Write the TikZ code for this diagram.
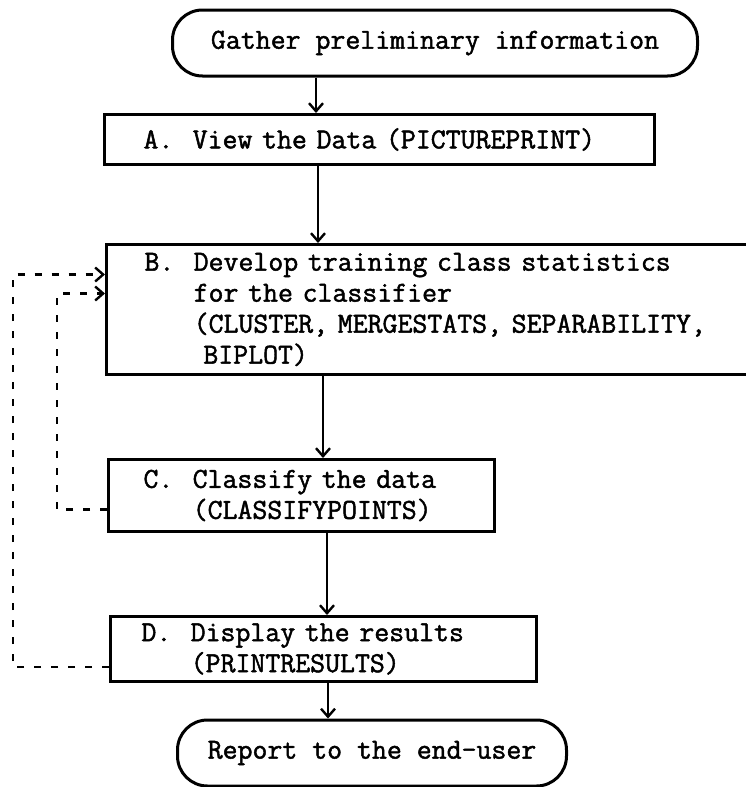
\documentclass[tikz,border=0pt]{standalone}
\usepackage{fontspec}
\newfontfamily\typer{Latin Modern Mono}[FakeBold=1.6]
\usetikzlibrary{shapes,arrows.meta,positioning}
\begin{document}
\begin{tikzpicture}
  [
    x=1pt, y=-1pt,
    Terminal/.style={rectangle, rounded corners=30pt, draw=black, line width=3pt, minimum height=66pt, inner sep=0pt, font=\fontsize{29}{31}\selectfont\typer},
    Box/.style={rectangle, draw=black, line width=3pt, anchor=north west, inner sep=0pt, align=left, font=\fontsize{29}{31}\selectfont\typer, execute at begin node={\leftskip=#1}},
    Flow/.style={-{Straight Barb[length=8pt, width=14pt, line width=2.4pt]}, draw, line width=2.4pt},
    Feedback/.style={-{Straight Barb[length=8pt, width=14pt, line width=2.4pt]}, draw, line width=2.6pt, dash pattern=on 7pt off 10pt}
  ]
  \useasboundingbox (0,0) rectangle (745,787);
  % Nodes
  \node[Terminal, minimum width=525pt] (gather) at (435,43) {Gather preliminary information};
  \node[Box=39pt, text width=550pt, minimum height=50pt] (viewA) at (103,113) {A.~~View the Data (PICTUREPRINT)};
  \node[Box=38pt, text width=655pt, minimum height=130pt] (develB) at (105,243) {B.~~Develop training class statistics\\\phantom{B.~~}for the classifier\\\phantom{B.~~}(CLUSTER, MERGESTATS, SEPARABILITY,\\\phantom{B.~~~}BIPLOT)};
  \node[Box=35pt, text width=386pt, minimum height=72pt] (classC) at (107,458) {C.~~Classify the data\\\phantom{C.~~}(CLASSIFYPOINTS)};
  \node[Box=31pt, text width=426pt, minimum height=65pt] (showD) at (109,615) {D.~~Display the results\\\phantom{D.~~}(PRINTRESULTS)};
  \node[Terminal, minimum width=389pt] (report) at (372,753) {Report to the end-user};
  % Lines
  \path[Flow] (gather.south -| 316,0) -- (viewA.north -| 316,0);
  \path[Flow] (viewA.south -| 318,0) -- (develB.north -| 318,0);
  \path[Flow] (develB.south -| 323,0) -- (classC.north -| 323,0);
  \path[Flow] (classC.south -| 327,0) -- (showD.north -| 327,0);
  \path[Flow] (showD.south -| 328,0) -- (report.north -| 328,0);
  % Feedback
  \path[Feedback] ([yshift=-14pt]classC.west) -- ++(-50,0) |- ([yshift=16pt]develB.west);
  \path[Feedback] ([yshift=-18pt]showD.west) -- ++(-96,0) |- ([yshift=35pt]develB.west);
\end{tikzpicture}
\end{document}
